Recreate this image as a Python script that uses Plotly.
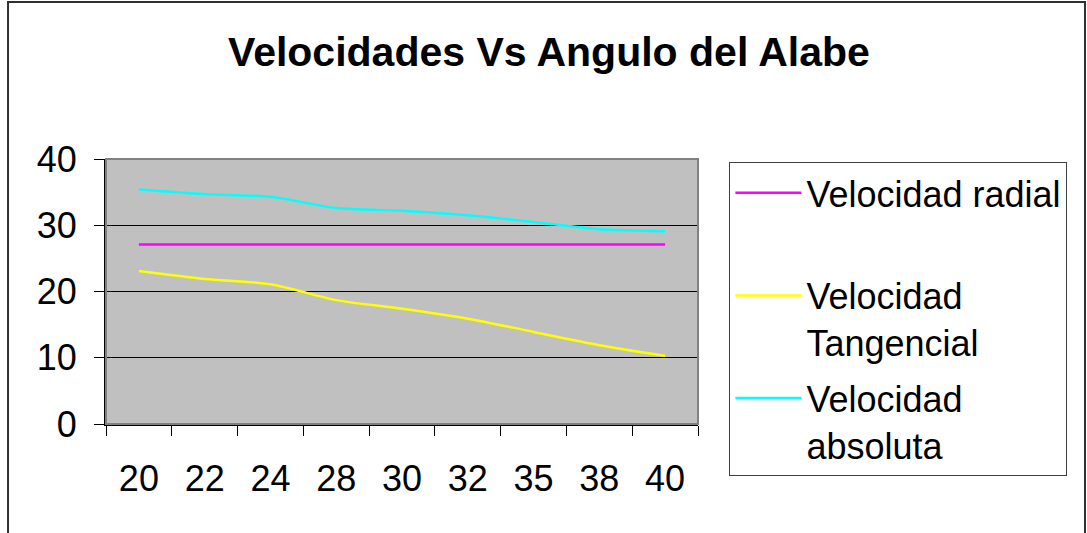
import plotly.graph_objects as go

# angulo del alabe (categorias del eje x)
angulos = ['20', '22', '24', '28', '30', '32', '35', '38', '40']
vel_radial = [27.1, 27.1, 27.1, 27.1, 27.1, 27.1, 27.1, 27.1, 27.1]
vel_tangencial = [23.1, 21.9, 21.1, 18.7, 17.4, 15.9, 13.9, 11.9, 10.3]
vel_absoluta = [35.4, 34.7, 34.3, 32.6, 32.2, 31.5, 30.5, 29.4, 29.1]

FONT = 'Arial, Liberation Sans, sans-serif'

fig = go.Figure()
fig.add_trace(go.Scatter(x=angulos, y=vel_radial, name='Velocidad radial<br>&nbsp;', legendgroup='a',
                         mode='lines', line=dict(color='#FF00FF', width=2.5, shape='spline', smoothing=0.8)))
fig.add_trace(go.Scatter(x=angulos, y=vel_tangencial, name='Velocidad<br>Tangencial', legendgroup='b',
                         mode='lines', line=dict(color='#FFFF00', width=2.5, shape='spline', smoothing=0.8)))
fig.add_trace(go.Scatter(x=angulos, y=vel_absoluta, name='Velocidad<br>absoluta', legendgroup='c',
                         mode='lines', line=dict(color='#00FFFF', width=2.5, shape='spline', smoothing=0.8)))

fig.update_layout(
    width=1087, height=533,
    margin=dict(l=106, r=389, t=159, b=109, autoexpand=False),
    paper_bgcolor='white', plot_bgcolor='#C0C0C0',
    font=dict(family=FONT, size=36, color='black'),
    title=dict(text='<b>Velocidades Vs Angulo del Alabe</b>', x=0.505, xanchor='center',
               y=0.903, yanchor='middle', font=dict(family=FONT, size=41, color='black')),
    showlegend=True,
    legend=dict(x=1.053, xanchor='left', y=0.989, yanchor='top', bgcolor='white',
                bordercolor='#404040', borderwidth=1, valign='top', tracegroupgap=6,
                itemwidth=66, maxheight=420, font=dict(family=FONT, size=36, color='black')),
    xaxis=dict(type='category', range=[-0.5, 8.5], tickson='boundaries', ticks='outside', ticklen=10,
               tickcolor='black', showgrid=False, showline=True, linecolor='black', linewidth=2,
               ticklabelstandoff=22, automargin=False),
    yaxis=dict(range=[0, 40], dtick=10, ticks='outside', ticklen=10, tickcolor='black',
               showgrid=True, gridcolor='black', gridwidth=1, zeroline=False,
               showline=True, linecolor='black', linewidth=2, ticklabelstandoff=10, automargin=False),
)

# borde gris del area de trazado
fig.add_shape(type='rect', xref='paper', yref='paper', x0=0, y0=0, x1=1, y1=1,
              line=dict(color='#808080', width=2), layer='above')
# borde exterior del grafico
fig.add_shape(type='rect', xref='paper', yref='paper', x0=-0.1655, y0=-0.45, x1=1.6537, y1=1.5925,
              line=dict(color='#303030', width=2), layer='above')

# drop the default 8px body margin so the figure fills the window exactly
fig.write_html("out.html", config={'displayModeBar': False},
               post_script="document.body.style.margin = '0px';")
